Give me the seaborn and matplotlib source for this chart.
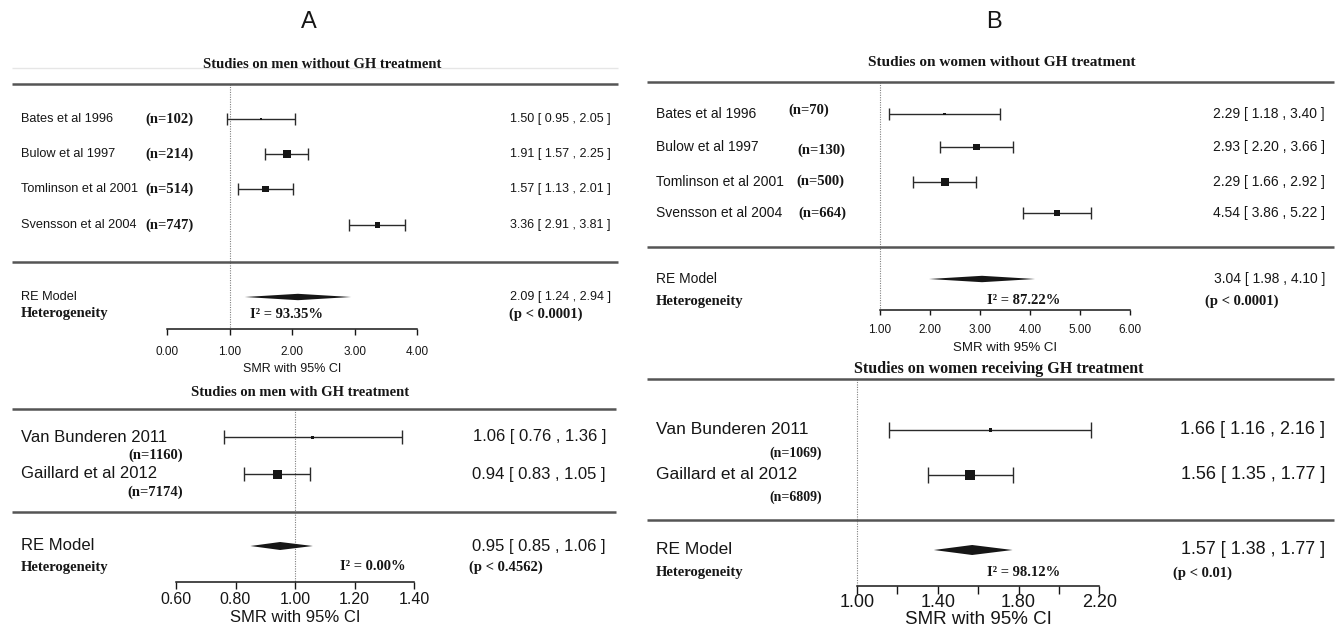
import numpy as np
import pandas as pd
import matplotlib
matplotlib.use("Agg")
import matplotlib.pyplot as plt
import seaborn as sns

# ------------------------------------------------------------------ data
# A (top): studies on men without GH treatment
men_nogh_study = ["Bates et al 1996", "Bulow et al 1997", "Tomlinson et al 2001", "Svensson et al 2004"]
men_nogh_n = ["(n=102)", "(n=214)", "(n=514)", "(n=747)"]
men_nogh_smr = [1.50, 1.91, 1.57, 3.36]
men_nogh_lo = [0.95, 1.57, 1.13, 2.91]
men_nogh_hi = [2.05, 2.25, 2.01, 3.81]
men_nogh_re = [2.09, 1.24, 2.94]
men_nogh_i2 = "I\u00b2 = 93.35%"
men_nogh_p = "(p < 0.0001)"
men_nogh_ticks = [0.0, 1.0, 2.0, 3.0, 4.0]

# A (bottom): studies on men with GH treatment
men_gh_study = ["Van Bunderen 2011", "Gaillard et al 2012"]
men_gh_n = ["(n=1160)", "(n=7174)"]
men_gh_smr = [1.06, 0.94]
men_gh_lo = [0.76, 0.83]
men_gh_hi = [1.36, 1.05]
men_gh_re = [0.95, 0.85, 1.06]
men_gh_i2 = "I\u00b2 = 0.00%"
men_gh_p = "(p < 0.4562)"
men_gh_ticks = [0.6, 0.8, 1.0, 1.2, 1.4]

# B (top): studies on women without GH treatment
wom_nogh_study = ["Bates et al 1996", "Bulow et al 1997", "Tomlinson et al 2001", "Svensson et al 2004"]
wom_nogh_n = ["(n=70)", "(n=130)", "(n=500)", "(n=664)"]
wom_nogh_smr = [2.29, 2.93, 2.29, 4.54]
wom_nogh_lo = [1.18, 2.20, 1.66, 3.86]
wom_nogh_hi = [3.40, 3.66, 2.92, 5.22]
wom_nogh_re = [3.04, 1.98, 4.10]
wom_nogh_i2 = "I\u00b2 = 87.22%"
wom_nogh_p = "(p < 0.0001)"
wom_nogh_ticks = [1.0, 2.0, 3.0, 4.0, 5.0, 6.0]

# B (bottom): studies on women receiving GH treatment
wom_gh_study = ["Van Bunderen 2011", "Gaillard et al 2012"]
wom_gh_n = ["(n=1069)", "(n=6809)"]
wom_gh_smr = [1.66, 1.56]
wom_gh_lo = [1.16, 1.35]
wom_gh_hi = [2.16, 1.77]
wom_gh_re = [1.57, 1.38, 1.77]
wom_gh_i2 = "I\u00b2 = 98.12%"
wom_gh_p = "(p < 0.01)"
wom_gh_ticks = [1.0, 1.2, 1.4, 1.6, 1.8, 2.0, 2.2]
wom_gh_ticklabels = ["1.00", "", "1.40", "", "1.80", "", "2.20"]

titles = ["Studies on men without GH treatment", "Studies on men with GH treatment",
          "Studies on women without GH treatment", "Studies on women receiving GH treatment"]
panel_letters = ["A", "B"]
xlabel = "SMR with 95% CI"

# ------------------------------------------------------------------ style
sns.set_theme(style="white")
SANS = ["Liberation Sans", "DejaVu Sans"]
SERIF = ["Liberation Serif", "DejaVu Serif"]
plt.rcParams["font.family"] = SANS
INK = "#161616"
RULE = "#555555"
REF = "#808080"

W, H = 1341, 631
fig = plt.figure(figsize=(W / 100, H / 100), dpi=100)
fig.patch.set_facecolor("white")

panels = [
    dict(study=men_nogh_study, n=men_nogh_n, smr=men_nogh_smr, lo=men_nogh_lo, hi=men_nogh_hi,
         re=men_nogh_re, i2=men_nogh_i2, p=men_nogh_p, ticks=men_nogh_ticks,
         ticklabels=[f"{t:.2f}" for t in men_nogh_ticks], title=titles[0],
         lay=dict(box=(6, 632, 48, 383), one=229.8, ppu=62.5, rule_x=(12, 618), faint_y=68,
                  title=(322, 64, 10.5), rules_y=[84, 262], ref=(84, 329),
                  row_y=[119, 154, 189, 225], label_x=21, label_fs=9.2,
                  n_x=[145] * 4, n_y=[119, 154, 189, 225], n_ha="left", n_fs=10.5,
                  val_x=611, val_fs=9, box_px=[2.5, 8, 6.5, 5.5], cap=4.5,
                  re_y=297, het_y=314, dia_h=3.2, re_fs=9.2,
                  i2_x=250, i2_ha="left", p_x=509, het_fs=10.5,
                  axis_y=329, tick_len=6, tick_fs=8.5, ticklab_y=352, xlabel_y=369, xlabel_fs=9)),
    dict(study=men_gh_study, n=men_gh_n, smr=men_gh_smr, lo=men_gh_lo, hi=men_gh_hi,
         re=men_gh_re, i2=men_gh_i2, p=men_gh_p, ticks=men_gh_ticks,
         ticklabels=[f"{t:.2f}" for t in men_gh_ticks], title=titles[1],
         lay=dict(box=(6, 632, 383, 631), one=295, ppu=297.5, rule_x=(12, 616), faint_y=None,
                  title=(300, 393, 10.5), rules_y=[409, 512], ref=(409, 582),
                  row_y=[437, 474], label_x=21, label_fs=12,
                  n_x=[183, 183], n_y=[455, 492], n_ha="right", n_fs=10.5,
                  val_x=606, val_fs=12, box_px=[3, 9], cap=5,
                  re_y=546, het_y=567, dia_h=4, re_fs=12,
                  i2_x=406, i2_ha="right", p_x=469, het_fs=10.5,
                  axis_y=582, tick_len=7, tick_fs=11.5, ticklab_y=599, xlabel_y=618, xlabel_fs=12)),
    dict(study=wom_nogh_study, n=wom_nogh_n, smr=wom_nogh_smr, lo=wom_nogh_lo, hi=wom_nogh_hi,
         re=wom_nogh_re, i2=wom_nogh_i2, p=wom_nogh_p, ticks=wom_nogh_ticks,
         ticklabels=[f"{t:.2f}" for t in wom_nogh_ticks], title=titles[2],
         lay=dict(box=(640, 1341, 48, 372), one=880, ppu=50, rule_x=(647, 1334), faint_y=None,
                  title=(1002, 63, 11), rules_y=[82, 247], ref=(82, 310),
                  row_y=[114, 147, 182, 213], label_x=656, label_fs=10,
                  n_x=[788, 797, 796, 798], n_y=[110, 150, 181, 213], n_ha="left", n_fs=10.5,
                  val_x=1325, val_fs=10, box_px=[2.5, 6.5, 8, 6], cap=4.5,
                  re_y=279, het_y=301, dia_h=3.2, re_fs=10,
                  i2_x=987, i2_ha="left", p_x=1205, het_fs=10.5,
                  axis_y=310, tick_len=5, tick_fs=8.5, ticklab_y=330, xlabel_y=348, xlabel_fs=9.5)),
    dict(study=wom_gh_study, n=wom_gh_n, smr=wom_gh_smr, lo=wom_gh_lo, hi=wom_gh_hi,
         re=wom_gh_re, i2=wom_gh_i2, p=wom_gh_p, ticks=wom_gh_ticks,
         ticklabels=wom_gh_ticklabels, title=titles[3],
         lay=dict(box=(640, 1341, 372, 631), one=857, ppu=202, rule_x=(647, 1334), faint_y=None,
                  title=(999, 369, 11.5), rules_y=[379, 520], ref=(379, 585),
                  row_y=[430, 475], label_x=656, label_fs=12.5,
                  n_x=[822, 822], n_y=[453, 497], n_ha="right", n_fs=10,
                  val_x=1325, val_fs=13, box_px=[3.5, 10], cap=5.5,
                  re_y=550, het_y=573, dia_h=5, re_fs=12.5,
                  i2_x=987, i2_ha="left", p_x=1173, het_fs=10.5,
                  axis_y=586, tick_len=8, tick_fs=13, ticklab_y=603, xlabel_y=620, xlabel_fs=13.5)),
]


def draw_panel(pn):
    L = pn["lay"]
    x0, x1, y0, y1 = L["box"]
    one, ppu = L["one"], L["ppu"]
    ax = fig.add_axes([x0 / W, 1 - y1 / H, (x1 - x0) / W, (y1 - y0) / H])

    def cx(px):
        return 1.0 + (px - one) / ppu

    # point estimates (squares sized by study weight)
    df = pd.DataFrame({"study": pn["study"], "smr": pn["smr"], "y": L["row_y"]})
    sizes = {s: (b * 0.72) ** 2 for s, b in zip(pn["study"], L["box_px"])}
    sns.scatterplot(data=df, x="smr", y="y", size="study", sizes=sizes, marker="s",
                    color=INK, edgecolor=INK, linewidth=0, legend=False, ax=ax, zorder=4)
    # confidence intervals
    smr = np.array(pn["smr"]); lo = np.array(pn["lo"]); hi = np.array(pn["hi"])
    ax.errorbar(smr, L["row_y"], xerr=[smr - lo, hi - smr], fmt="none", ecolor="#2a2a2a",
                elinewidth=1.0, capsize=L["cap"], capthick=1.0, zorder=3)
    # RE model diamond
    est, rlo, rhi = pn["re"]
    ry, h = L["re_y"], L["dia_h"]
    ax.fill([rlo, est, rhi, est], [ry, ry - h, ry, ry + h], color=INK, lw=0, zorder=4)

    # rules
    for yy in L["rules_y"]:
        ax.hlines(yy, cx(L["rule_x"][0]), cx(L["rule_x"][1]), colors=RULE, lw=1.8)
    if L["faint_y"] is not None:
        ax.hlines(L["faint_y"], cx(L["rule_x"][0]), cx(L["rule_x"][1]), colors="#e6e6e6", lw=1.0)
    # reference line at SMR = 1
    ax.vlines(1.0, L["ref"][0], L["ref"][1], colors=REF, lw=0.8, linestyles=(0, (1, 1.2)), zorder=1)

    # axis
    ax.set_xlim(cx(x0), cx(x1))
    ax.set_ylim(y1, y0)
    for s in ["left", "right", "top"]:
        ax.spines[s].set_visible(False)
    sp = ax.spines["bottom"]
    sp.set_visible(True)
    sp.set_position(("data", L["axis_y"]))
    sp.set_bounds(pn["ticks"][0], pn["ticks"][-1])
    sp.set_color(INK)
    sp.set_linewidth(1.1)
    ax.set_xticks(pn["ticks"])
    ax.set_xticklabels([])
    ax.set_yticks([])
    ax.tick_params(axis="x", bottom=True, direction="out", length=L["tick_len"] * 0.72,
                   width=1.0, color=INK)
    ax.set_xlim(cx(x0), cx(x1))
    ax.set_xlabel("")
    ax.set_ylabel("")
    ax.patch.set_visible(False)
    for t, lab in zip(pn["ticks"], pn["ticklabels"]):
        ax.text(t, L["ticklab_y"], lab, ha="center", va="center", fontsize=L["tick_fs"],
                family=SANS, color=INK)
    mid = 0.5 * (pn["ticks"][0] + pn["ticks"][-1])
    ax.text(mid, L["xlabel_y"], xlabel, ha="center", va="center", fontsize=L["xlabel_fs"],
            family=SANS, color=INK)

    # title
    tx, ty, tfs = L["title"]
    ax.text(cx(tx), ty, pn["title"], ha="center", va="center", fontsize=tfs, family=SERIF,
            fontweight="bold", color=INK)

    # study labels, n and values
    for i, s in enumerate(pn["study"]):
        ax.text(cx(L["label_x"]), L["row_y"][i], s, ha="left", va="center",
                fontsize=L["label_fs"], family=SANS, color=INK)
        ax.text(cx(L["n_x"][i]), L["n_y"][i], pn["n"][i], ha=L["n_ha"], va="center",
                fontsize=L["n_fs"], family=SERIF, fontweight="bold", color=INK)
        ax.text(cx(L["val_x"]), L["row_y"][i],
                f"{pn['smr'][i]:.2f} [ {pn['lo'][i]:.2f} , {pn['hi'][i]:.2f} ]",
                ha="right", va="center", fontsize=L["val_fs"], family=SANS, color=INK)
    ax.text(cx(L["label_x"]), ry, "RE Model", ha="left", va="center", fontsize=L["re_fs"],
            family=SANS, color=INK)
    ax.text(cx(L["val_x"]), ry, f"{est:.2f} [ {rlo:.2f} , {rhi:.2f} ]", ha="right", va="center",
            fontsize=L["val_fs"], family=SANS, color=INK)
    ax.text(cx(L["label_x"]), L["het_y"], "Heterogeneity", ha="left", va="center",
            fontsize=L["het_fs"], family=SERIF, fontweight="bold", color=INK)
    ax.text(cx(L["i2_x"]), L["het_y"], pn["i2"], ha=L["i2_ha"], va="center",
            fontsize=L["het_fs"], family=SERIF, fontweight="bold", color=INK)
    ax.text(cx(L["p_x"]), L["het_y"], pn["p"], ha="left", va="center",
            fontsize=L["het_fs"], family=SERIF, fontweight="bold", color=INK)
    return ax


for pn in panels:
    draw_panel(pn)

fig.text(309 / W, 1 - 22 / H, panel_letters[0], ha="center", va="center", fontsize=17,
         family=SANS, color=INK)
fig.text(994 / W, 1 - 22 / H, panel_letters[1], ha="center", va="center", fontsize=17,
         family=SANS, color=INK)

fig.savefig("out.png", dpi=100, facecolor="white")
